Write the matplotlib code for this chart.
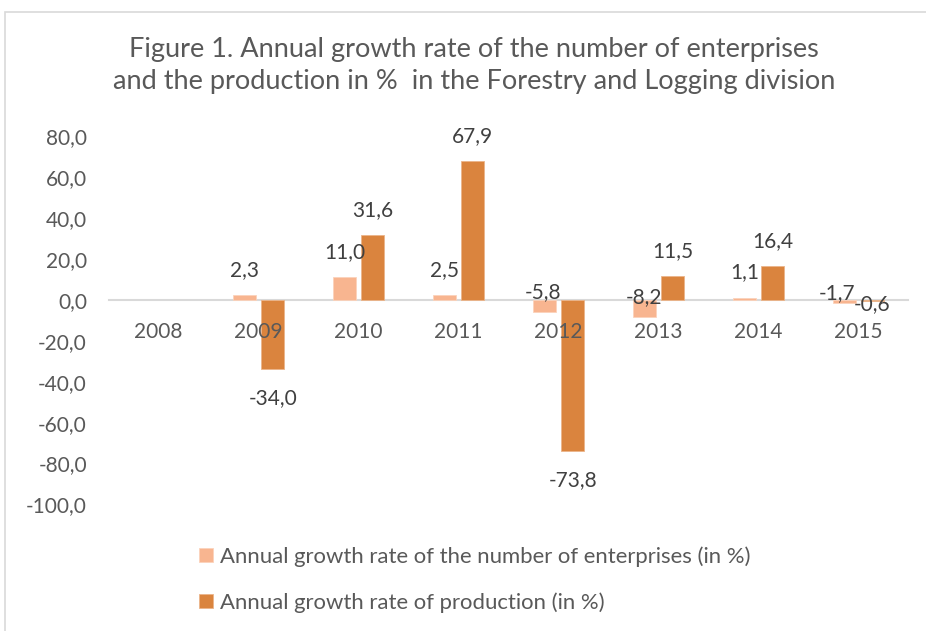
import numpy as np
import matplotlib
matplotlib.use("Agg")
import matplotlib.pyplot as plt
from matplotlib.patches import Rectangle

plt.rcParams['font.family'] = ['Lato', 'DejaVu Sans']

years = ["2008", "2009", "2010", "2011", "2012", "2013", "2014", "2015"]
enterprises = [np.nan, 2.3, 11.0, 2.5, -5.8, -8.2, 1.1, -1.7]
production = [np.nan, -34.0, 31.6, 67.9, -73.8, 11.5, 16.4, -0.6]
y_ticks = [-100, -80, -60, -40, -20, 0, 20, 40, 60, 80]

ent_label = "Annual growth rate of the number of enterprises (in %)"
prod_label = "Annual growth rate of production (in %)"
title = ("Figure 1. Annual growth rate of the number of enterprises\n"
         "and the production in %  in the Forestry and Logging division")

# where each value label sits, in pixels from the end of its bar
ent_offsets = [None, (0, 25), (1, 25), (0, 25), (-1, 20), (0, 19), (0, 25), (-7, 10)]
prod_offsets = [None, (0, -29), (0, 25), (0, 25), (0, -29), (0, 25), (0, 25), (-1, -3)]

ENT_COLOR = '#F8B590'
PROD_COLOR = '#DA843E'
TEXT_COLOR = '#595959'
LABEL_COLOR = '#404040'


def fmt(v):
    return f"{v:.1f}".replace('.', ',')


fig = plt.figure(figsize=(9.26, 6.31), dpi=100)
ax = fig.add_axes([0.1172, 0.2005, 0.8639, 0.584])

# chart frame
fig.patches.append(Rectangle((5 / 926, -0.1), 1.2, 1.1 - 12 / 631, transform=fig.transFigure,
                             fill=False, edgecolor='#D9D9D9', linewidth=1.2, zorder=0))

x = np.arange(len(years))
w = 0.225
ent_bars = ax.bar(x - 0.142, enterprises, w, color=ENT_COLOR, edgecolor='#FBD3BC',
                  linewidth=0.6, label=ent_label, zorder=2)
prod_bars = ax.bar(x + 0.142, production, w, color=PROD_COLOR, edgecolor='#EBB58A',
                   linewidth=0.6, label=prod_label, zorder=2)

for bars, vals, offs in [(ent_bars, enterprises, ent_offsets), (prod_bars, production, prod_offsets)]:
    for b, v, off in zip(bars, vals, offs):
        if off is None or np.isnan(v):
            continue
        ax.annotate(fmt(v), xy=(b.get_x() + b.get_width() / 2, v), xytext=off,
                    textcoords='offset pixels', ha='center', va='center',
                    fontsize=15, color=LABEL_COLOR, zorder=4)

ax.set_xlim(-0.5, len(years) - 0.5)
ax.set_ylim(-100, 80)
ax.set_yticks(y_ticks)
ax.set_yticklabels([fmt(t) for t in y_ticks])
ax.set_xticks(x)
ax.set_xticklabels(years)

for s in ['top', 'right', 'left']:
    ax.spines[s].set_visible(False)
ax.spines['bottom'].set_position(('data', 0))
ax.spines['bottom'].set_color('#D9D9D9')
ax.spines['bottom'].set_linewidth(1.5)
ax.spines['bottom'].set_zorder(1)
# year labels are written over the bars
ax.xaxis.set_zorder(3)

ax.tick_params(axis='x', length=0, pad=16, labelsize=15, labelcolor=TEXT_COLOR)
ax.tick_params(axis='y', length=0, pad=15.5, labelsize=15, labelcolor=TEXT_COLOR)
ax.set_facecolor('none')

fig.text(474 / 926, 1 - 65.5 / 631, title, ha='center', va='center', fontsize=19.5,
         color=TEXT_COLOR, linespacing=1.33)

fig.legend(handles=[ent_bars, prod_bars], loc='upper left',
           bbox_to_anchor=(199 / 926, 1 - 546 / 631), frameon=False, fontsize=15.9,
           labelcolor=TEXT_COLOR, handlelength=0.63, handleheight=0.63,
           handletextpad=0.32, labelspacing=1.15, borderpad=0, borderaxespad=0)

fig.savefig('out.png', dpi=100)
